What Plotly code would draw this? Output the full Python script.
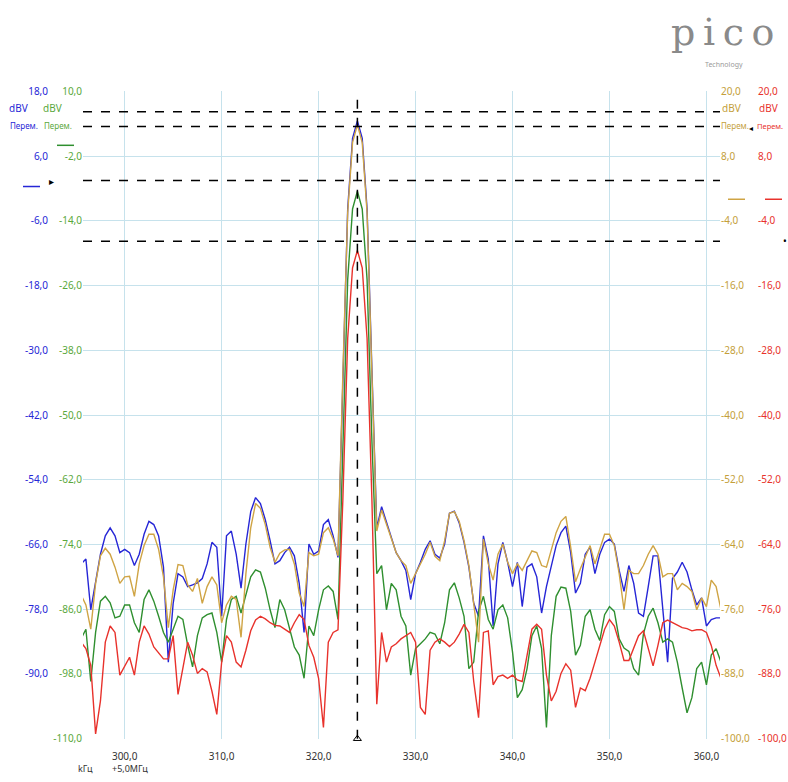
import plotly.graph_objects as go

W, H = 788, 782

# Frequency grid (kHz offset from the +5,0 MHz centre)
FREQ_START_KHZ = 295.5
FREQ_STEP_KHZ = 0.5

# Channel A (blue), dBV
chan_a_dbv = [
    -69.6, -68.7, -78.1, -73.2, -67.8, -64.4, -62.9, -64.4, -67.5, -66.9,
    -67.5, -69.9, -67.8, -64.1, -61.7, -62.3, -64.4, -70.2, -87.8, -76.9,
    -71.4, -72.0, -73.8, -73.5, -73.1, -72.3, -69.6, -65.6, -66.5, -79.3,
    -64.4, -63.5, -67.8, -74.1, -65.9, -59.9, -57.3, -58.4, -61.4, -65.3,
    -69.6, -69.0, -67.5, -66.5, -68.1, -73.2, -82.3, -65.9, -67.8, -67.2,
    -62.3, -61.4, -64.4, -68.4, -33.8, -3.8, 9.3, 12.5, 9.3, -3.8,
    -33.8, -62.9, -59.0, -61.7, -64.4, -67.5, -69.0, -70.8, -76.2, -71.4,
    -69.3, -66.9, -65.3, -67.8, -68.5, -65.9, -60.2, -59.8, -62.0, -65.6,
    -70.2, -76.9, -79.3, -64.4, -68.7, -81.1, -69.6, -65.6, -69.3, -73.8,
    -69.3, -77.5, -70.2, -69.6, -72.0, -78.7, -73.8, -70.2, -66.2, -63.8,
    -62.6, -67.5, -75.0, -73.2, -67.8, -66.5, -71.4, -67.8, -65.6, -65.0,
    -65.9, -70.8, -74.7, -69.9, -73.2, -78.7, -79.3, -73.8, -68.1, -68.1,
    -78.1, -87.8, -72.3, -71.1, -69.3, -71.1, -74.4, -77.2, -75.9, -81.1,
    -79.9, -79.6, -79.6,
]

# Channel B (red), dBV
chan_b_dbv = [
    -82.1, -83.3, -86.4, -99.1, -93.0, -82.1, -79.1, -80.3, -88.2, -86.4,
    -84.9, -88.2, -82.1, -79.1, -80.6, -83.0, -84.2, -85.2, -85.2, -80.9,
    -91.8, -87.0, -82.1, -84.5, -87.9, -87.0, -87.6, -91.2, -95.5, -85.8,
    -80.9, -82.1, -85.8, -86.7, -83.6, -80.0, -78.0, -77.3, -77.8, -78.5,
    -79.0, -79.1, -79.7, -80.3, -78.5, -77.0, -77.9, -82.7, -84.9, -88.8,
    -97.9, -82.1, -80.3, -79.8, -55.8, -25.8, -12.7, -9.5, -12.7, -25.8,
    -55.8, -93.6, -80.3, -85.8, -83.0, -82.4, -81.5, -80.9, -80.3, -82.1,
    -94.2, -95.5, -83.6, -82.1, -81.5, -82.1, -82.9, -82.1, -80.6, -78.8,
    -80.3, -89.4, -96.1, -80.3, -80.0, -90.0, -88.5, -88.2, -88.8, -88.2,
    -89.1, -89.4, -84.5, -79.7, -78.8, -79.7, -88.2, -93.0, -91.2, -87.9,
    -86.1, -87.3, -94.2, -90.6, -91.1, -88.8, -85.8, -82.7, -79.7, -77.9,
    -79.1, -82.1, -85.5, -85.5, -83.3, -80.9, -80.0, -83.3, -86.5, -82.7,
    -78.5, -78.0, -78.5, -79.0, -79.4, -79.6, -80.0, -79.8, -79.8, -80.3,
    -82.7, -86.4, -88.8,
]

# Channel C (green), dBV
chan_c_dbv = [
    -91.5, -89.7, -99.4, -90.3, -84.5, -83.6, -84.8, -87.6, -87.3, -85.2,
    -85.2, -88.5, -90.3, -84.2, -82.4, -84.5, -87.3, -90.3, -92.1, -89.7,
    -87.3, -87.9, -92.7, -96.7, -90.9, -87.6, -87.0, -86.7, -90.3, -95.8,
    -87.9, -84.2, -83.6, -86.7, -83.3, -80.0, -78.7, -79.1, -82.1, -86.1,
    -89.4, -84.2, -86.1, -89.7, -93.0, -94.5, -98.8, -89.1, -90.9, -86.1,
    -82.4, -81.7, -82.7, -87.9, -54.9, -24.9, -11.8, -8.5, -11.8, -24.9,
    -54.9, -79.4, -77.9, -86.1, -81.2, -82.4, -87.3, -89.1, -98.2, -93.3,
    -92.4, -91.5, -90.3, -90.6, -92.4, -88.5, -82.4, -81.1, -83.9, -87.3,
    -97.0, -95.8, -86.4, -83.6, -87.9, -89.7, -86.1, -85.2, -87.6, -93.9,
    -102.4, -100.9, -97.0, -90.9, -89.1, -93.3, -107.9, -90.9, -83.6, -81.9,
    -82.1, -86.4, -94.5, -92.7, -87.3, -86.1, -89.7, -91.8, -87.0, -85.5,
    -86.4, -91.5, -93.2, -93.8, -97.0, -98.2, -90.6, -87.3, -85.8, -88.5,
    -92.1, -91.5, -92.1, -95.8, -100.6, -105.2, -102.4, -97.0, -95.8, -100.0,
    -94.5, -93.3, -95.8,
]

# Channel D (yellow), dBV
chan_d_dbv = [
    -73.3, -75.2, -79.7, -71.2, -66.1, -64.7, -65.8, -68.2, -71.2, -70.0,
    -69.9, -73.6, -67.6, -64.2, -62.1, -62.1, -64.9, -70.0, -79.4, -72.4,
    -67.7, -67.9, -71.5, -72.7, -70.3, -74.9, -71.8, -70.0, -71.5, -78.5,
    -75.2, -73.6, -74.2, -81.2, -69.4, -60.9, -56.4, -57.3, -60.3, -64.5,
    -67.3, -65.6, -65.0, -64.9, -67.6, -73.0, -75.5, -65.5, -66.1, -65.8,
    -61.8, -60.9, -63.0, -66.1, -32.5, -2.5, 10.5, 13.8, 10.5, -2.5,
    -32.5, -61.5, -57.6, -60.3, -62.7, -65.5, -67.0, -67.9, -71.2, -69.4,
    -67.6, -65.8, -63.6, -66.2, -67.0, -63.3, -58.2, -57.9, -59.7, -63.3,
    -67.9, -75.5, -82.1, -63.0, -67.6, -70.6, -65.8, -63.9, -67.3, -69.4,
    -67.6, -68.8, -67.0, -65.2, -65.5, -67.9, -68.2, -65.2, -61.8, -59.7,
    -58.8, -64.5, -70.9, -68.5, -66.4, -64.2, -67.6, -64.9, -62.1, -62.1,
    -64.2, -69.4, -76.1, -68.8, -69.4, -69.4, -67.9, -65.8, -64.2, -65.8,
    -70.0, -69.4, -69.4, -72.4, -71.2, -71.8, -72.7, -76.1, -73.9, -75.5,
    -70.6, -71.8, -76.1,
]

freq_khz = [FREQ_START_KHZ + i * FREQ_STEP_KHZ for i in range(len(chan_a_dbv))]

# Axis tick values
freq_ticks = [300, 310, 320, 330, 340, 350, 360]
a_ticks = [18, 6, -6, -18, -30, -42, -54, -66, -78, -90]
c_ticks = [10, -2, -14, -26, -38, -50, -62, -74, -86, -98, -110]
d_ticks = [20, 8, -4, -16, -28, -40, -52, -64, -76, -88, -100]
b_ticks = [20, 8, -4, -16, -28, -40, -52, -64, -76, -88, -100]

# Cursor / ruler positions
marker_freq = 324.0
ruler_levels_a = [14.2, 11.5, 1.5, -9.8]


def lab(v):
    return f"{v:.1f}".replace(".", ",")


BLUE = "#2626d6"
RED = "#e8322c"
GREEN = "#2f8f2f"
YELLOW = "#cfa444"
GREEN_TXT = "#5aa83c"
YELLOW_TXT = "#c4a03a"
GRID = "#c6e2ec"
FONT = "Noto Sans, DejaVu Sans, sans-serif"

X0, X1 = 83, 720     # plot area, px
Y0, Y1 = 85, 745


def px(x):
    return x / W


def py(y):
    return 1 - y / H


fig = go.Figure()

for vals, axis, col in [
    (chan_d_dbv, "y3", YELLOW),
    (chan_c_dbv, "y2", GREEN),
    (chan_a_dbv, "y", BLUE),
    (chan_b_dbv, "y4", RED),
]:
    fig.add_trace(go.Scatter(
        x=freq_khz, y=vals, yaxis=axis, mode="lines",
        line=dict(color=col, width=1.4),
        hoverinfo="skip", showlegend=False,
    ))

# cursor end marker
fig.add_trace(go.Scatter(
    x=[marker_freq], y=[-102], yaxis="y", mode="markers",
    marker=dict(symbol="triangle-up-open", size=7, color="black", line=dict(width=1)),
    cliponaxis=False, hoverinfo="skip", showlegend=False,
))

tf = dict(family=FONT, size=10)

fig.update_layout(
    width=W, height=H,
    margin=dict(l=0, r=0, t=0, b=0),
    paper_bgcolor="white", plot_bgcolor="white",
    showlegend=False,
    xaxis=dict(
        domain=[px(X0), px(X1)], range=[295.7, 361.4],
        tickvals=freq_ticks, ticktext=[lab(v) for v in freq_ticks],
        showgrid=True, gridcolor=GRID, gridwidth=1,
        zeroline=False, showline=False,
        ticks="outside", ticklen=8, tickcolor="rgba(0,0,0,0)",
        tickfont=dict(tf, color="#333333"),
    ),
    yaxis=dict(
        domain=[py(Y1), py(Y0)], range=[-102, 18],
        anchor="free", position=px(48), side="left",
        tickvals=a_ticks, ticktext=[lab(v) for v in a_ticks],
        showgrid=False, zeroline=False, showline=False, ticks="",
        tickfont=dict(tf, color=BLUE),
    ),
    yaxis2=dict(
        overlaying="y", range=[-110, 10], anchor="x", side="left",
        tickvals=c_ticks, ticktext=[lab(v) for v in c_ticks],
        showgrid=True, gridcolor=GRID, gridwidth=1,
        zeroline=False, showline=False, ticks="",
        tickfont=dict(tf, color=GREEN_TXT),
    ),
    yaxis3=dict(
        overlaying="y", range=[-100, 20], anchor="x", side="right",
        tickvals=d_ticks, ticktext=[lab(v) for v in d_ticks],
        showgrid=False, zeroline=False, showline=False, ticks="",
        tickfont=dict(tf, color=YELLOW_TXT),
    ),
    yaxis4=dict(
        overlaying="y", range=[-100, 20], anchor="free", position=px(757), side="right",
        tickvals=b_ticks, ticktext=[lab(v) for v in b_ticks],
        showgrid=False, zeroline=False, showline=False, ticks="",
        tickfont=dict(tf, color=RED),
    ),
)

shapes = []
# vertical cursor
shapes.append(dict(type="line", xref="x", yref="paper", x0=marker_freq, x1=marker_freq,
                   y0=py(Y1), y1=py(Y0), line=dict(color="black", width=1.5, dash="dash")))
# horizontal rulers
for lv in ruler_levels_a:
    shapes.append(dict(type="line", xref="paper", yref="y", x0=px(X0), x1=px(X1),
                       y0=lv, y1=lv, line=dict(color="black", width=1.5, dash="dash")))
# channel colour swatches
for (xa, xb, yy, col) in [(23, 40, 182, BLUE), (57, 74, 140, GREEN),
                          (728, 745, 195, YELLOW), (765, 782, 195, RED)]:
    shapes.append(dict(type="line", xref="paper", yref="paper", x0=px(xa), x1=px(xb),
                       y0=py(yy), y1=py(yy), line=dict(color=col, width=1.5)))
fig.update_layout(shapes=shapes)

ann = []


def text(x, y, s, col, size=10, anchor="left", family=FONT):
    ann.append(dict(xref="paper", yref="paper", x=px(x), y=py(y), text=s, showarrow=False,
                    xanchor=anchor, yanchor="middle",
                    font=dict(family=family, size=size, color=col)))


text(7, 102, "dBV", BLUE)
text(41, 102, "dBV", GREEN_TXT)
text(8, 120, "Перем.", BLUE, size=8)
text(42, 120, "Перем.", GREEN_TXT, size=8)
text(720, 102, "dBV", YELLOW_TXT)
text(757, 102, "dBV", RED)
text(719, 120, "Перем.", YELLOW_TXT, size=8)
text(755, 120, "Перем.", RED, size=7.5)
text(747, 122, "◂", "black", size=8)
text(781, 238, "•", "black", size=10)
text(47, 176, "▸", "black", size=10)
text(76, 775, "kГц", "#333333", size=9)
text(110, 775, "+5,0МГц", "#333333", size=9)
# logo
text(722, 24, "p\u2009i\u2009c\u2009o", "#8a8a8a", size=38, anchor="center", family="DejaVu Serif, serif")
text(724, 58, "Technology", "#9a9a9a", size=7, anchor="center")
fig.update_layout(annotations=ann)

fig.write_html("out.html")
